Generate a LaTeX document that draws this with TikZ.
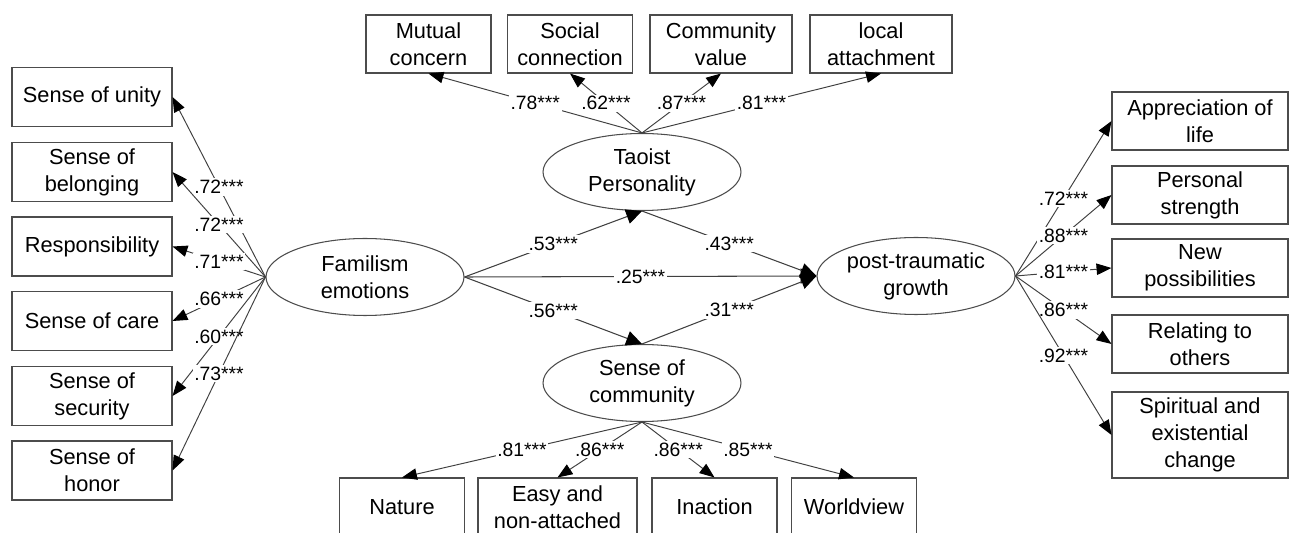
\documentclass[tikz,border=0pt]{standalone}
\usepackage{fontspec}
\setmainfont{Liberation Sans}
\usetikzlibrary{arrows.meta,shapes.geometric}
\tikzstyle{item} = [rectangle, draw=black!70, line width=0.6pt, align=center, inner sep=0pt, font=\fontsize{12.4}{15.5}\selectfont]
\tikzstyle{sidebox} = [item, minimum width=3.2cm, minimum height=1.18cm]
\tikzstyle{rightbox} = [item, minimum width=3.52cm, minimum height=1.16cm]
\tikzstyle{topbox} = [item, minimum width=2.5cm, minimum height=1.16cm]
\tikzstyle{latent} = [ellipse, draw=black!70, line width=0.6pt, align=center, minimum width=3.96cm, minimum height=1.54cm, inner sep=0pt, font=\fontsize{12.4}{15.5}\selectfont]
\tikzstyle{load} = [draw=black!75, line width=0.55pt, -{Triangle[length=8.5pt,width=6.5pt,color=black]}]
\tikzstyle{effect} = [draw=black!75, line width=0.6pt, -{Triangle[length=9pt,width=8.5pt,color=black]}]
\tikzstyle{coef} = [fill=white, inner sep=1pt, font=\fontsize{11}{12}\selectfont]

\begin{document}
\begin{tikzpicture}[x=0.02cm, y=-0.02cm]
  \useasboundingbox (0,0) rectangle (1289,533);

  % latent variables
  \node (fam) [latent] at (365,277) {Familism\\emotions};
  \node (tao) [latent] at (642,172) {Taoist\\Personality};
  \node (soc) [latent] at (642,383) {Sense of\\community};
  \node (ptg) [latent] at (916,276) {post-traumatic\\growth};

  % familism indicators
  \node (unity) [sidebox] at (92,97) {Sense of unity};
  \node (belong) [sidebox] at (92,172) {Sense of\\belonging};
  \node (resp) [sidebox] at (92,246.5) {Responsibility};
  \node (care) [sidebox] at (92,321) {Sense of care};
  \node (secur) [sidebox] at (92,396) {Sense of\\security};
  \node (honor) [sidebox] at (92,470.5) {Sense of\\honor};

  % taoist indicators
  \node (mutual) [topbox] at (428.5,44) {Mutual\\concern};
  \node (social) [topbox] at (570,44) {Social\\connection};
  \node (value) [topbox, minimum width=2.84cm] at (721,44) {Community\\value};
  \node (local) [topbox, minimum width=2.84cm] at (881,44) {local\\attachment};

  % community indicators
  \node (nature) [topbox] at (402,507) {Nature};
  \node (easy) [topbox, minimum width=3.18cm] at (557.5,507) {Easy and\\non-attached};
  \node (inact) [topbox] at (714.5,507) {Inaction};
  \node (world) [topbox] at (854,507) {Worldview};

  % growth indicators
  \node (apprec) [rightbox] at (1200,121) {Appreciation of\\life};
  \node (strength) [rightbox] at (1200,195) {Personal\\strength};
  \node (newposs) [rightbox] at (1200,268) {New\\possibilities};
  \node (relate) [rightbox] at (1200,344) {Relating to\\others};
  \node (spirit) [rightbox, minimum height=1.72cm] at (1200,435) {Spiritual and\\existential\\change};

  % loadings
  \draw[load] (fam.west) -- node[coef] {.72***} (unity.east);
  \draw[load] (fam.west) -- node[coef] {.72***} (belong.east);
  \draw[load] (fam.west) -- node[coef] {.71***} (resp.east);
  \draw[load] (fam.west) -- node[coef] {.66***} (care.east);
  \draw[load] (fam.west) -- node[coef] {.60***} (secur.east);
  \draw[load] (fam.west) -- node[coef] {.73***} (honor.east);

  \draw[load] (tao.north) -- node[coef] {.78***} (mutual.south);
  \draw[load] (tao.north) -- node[coef] {.62***} (social.south);
  \draw[load] (tao.north) -- node[coef] {.87***} (value.south);
  \draw[load] (tao.north) -- node[coef] {.81***} (local.south);

  \draw[load] (soc.south) -- node[coef] {.81***} (nature.north);
  \draw[load] (soc.south) -- node[coef] {.86***} (easy.north);
  \draw[load] (soc.south) -- node[coef] {.86***} (inact.north);
  \draw[load] (soc.south) -- node[coef] {.85***} (world.north);

  \draw[load] (ptg.east) -- node[coef] {.72***} (apprec.west);
  \draw[load] (ptg.east) -- node[coef] {.88***} (strength.west);
  \draw[load] (ptg.east) -- node[coef] {.81***} (newposs.west);
  \draw[load] (ptg.east) -- node[coef] {.86***} (relate.west);
  \draw[load] (ptg.east) -- node[coef] {.92***} (spirit.west);

  % structural paths
  \draw[effect] (fam.east) -- node[coef] {.53***} (tao.south);
  \draw[effect] (fam.east) -- node[coef] {.56***} (soc.north);
  \draw[effect] (fam.east) -- node[coef] {.25***} (ptg.west);
  \draw[effect] (tao.south) -- node[coef] {.43***} (ptg.west);
  \draw[effect] (soc.north) -- node[coef] {.31***} (ptg.west);
\end{tikzpicture}
\end{document}
